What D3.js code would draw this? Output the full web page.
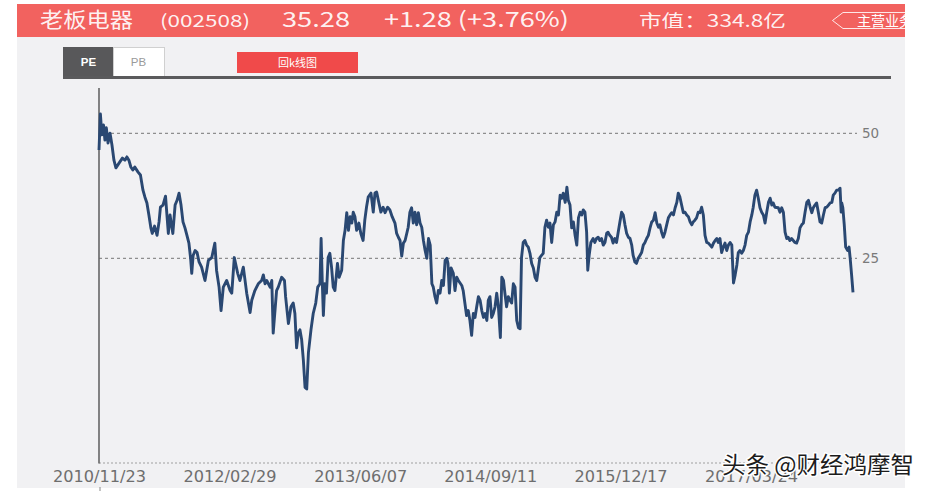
<!DOCTYPE html>
<html><head><meta charset="utf-8">
<script src="https://cdn.jsdelivr.net/npm/d3@7"></script>
<style>body{margin:0;background:#fff}svg{display:block}</style>
</head><body>
<svg id="c" width="933" height="493"></svg>
<script>
// ---------- text content ----------
const stockName = "老板电器";
const stockCode = "(002508)";
const price = "35.28";
const change = "+1.28 (+3.76%)";
const marketCap = "市值：334.8亿";
const tagLabel = "主营业务";
const tabs = ["PE", "PB"];
const buttonLabel = "回k线图";
const watermark = "头条 @财经鸿摩智";

// ---------- axis values ----------
const yTicks = [50, 25];
const xTickDates = ["2010-11-23","2012-02-29","2013-06-07","2014-09-11","2015-12-17","2017-03-24"];

// ---------- series (PE) ----------
const dates = [
 "2010-11-23","2010-11-28","2010-12-03","2010-12-09","2010-12-14","2010-12-19","2010-12-25",
 "2011-01-01","2011-01-08","2011-01-15","2011-01-22","2011-01-29","2011-02-05","2011-02-14","2011-02-23","2011-03-02","2011-03-09","2011-03-16","2011-03-23","2011-03-30","2011-04-10","2011-04-19","2011-04-28","2011-05-05","2011-05-12","2011-05-19","2011-05-26","2011-05-31","2011-06-08","2011-06-17","2011-06-24","2011-06-29","2011-07-08","2011-07-17","2011-07-22","2011-07-27","2011-08-02","2011-08-07","2011-08-12","2011-08-20","2011-08-27","2011-09-03","2011-09-10","2011-09-17","2011-09-24","2011-10-01","2011-10-08","2011-10-14","2011-10-18","2011-10-23","2011-10-30","2011-11-06","2011-11-13","2011-11-22","2011-12-04","2011-12-16","2011-12-28",
 "2012-01-08","2012-01-14","2012-01-23","2012-01-30","2012-02-07","2012-02-19","2012-03-02","2012-03-08","2012-03-17","2012-03-29","2012-04-06","2012-04-18","2012-04-30","2012-05-12","2012-05-18","2012-05-29","2012-06-10","2012-06-22","2012-06-28","2012-07-04","2012-07-10","2012-07-22","2012-07-28","2012-08-02","2012-08-14","2012-08-20","2012-09-01","2012-09-11","2012-09-15","2012-09-25","2012-10-04","2012-10-12","2012-10-18","2012-10-24","2012-10-30","2012-11-05","2012-11-11","2012-11-17","2012-11-23","2012-11-29","2012-12-05","2012-12-14","2012-12-22","2012-12-31",
 "2013-01-07","2013-01-15","2013-01-19","2013-01-23","2013-01-27","2013-02-01","2013-02-07","2013-02-13","2013-02-19","2013-02-25","2013-03-03","2013-03-09","2013-03-18","2013-03-24","2013-04-02","2013-04-08","2013-04-14","2013-04-20","2013-04-26","2013-05-02","2013-05-08","2013-05-13","2013-05-19","2013-05-25","2013-06-02","2013-06-09","2013-06-17","2013-06-23","2013-06-29","2013-07-05","2013-07-15","2013-07-23","2013-07-29","2013-08-04","2013-08-10","2013-08-19","2013-08-27","2013-09-03","2013-09-12","2013-09-20","2013-09-28","2013-10-08","2013-10-14","2013-10-20","2013-10-26","2013-11-01","2013-11-07","2013-11-13","2013-11-24","2013-11-30","2013-12-06","2013-12-12","2013-12-18","2013-12-24","2013-12-30",
 "2014-01-05","2014-01-11","2014-01-17","2014-01-23","2014-01-29","2014-02-04","2014-02-10","2014-02-16","2014-02-21","2014-02-27","2014-03-05","2014-03-11","2014-03-17","2014-03-23","2014-03-29","2014-04-04","2014-04-10","2014-04-14","2014-04-19","2014-04-25","2014-05-03","2014-05-09","2014-05-15","2014-05-21","2014-06-02","2014-06-07","2014-06-13","2014-06-19","2014-06-25","2014-07-01","2014-07-07","2014-07-13","2014-07-19","2014-07-25","2014-07-31","2014-08-06","2014-08-12","2014-08-18","2014-08-24","2014-08-30","2014-09-04","2014-09-10","2014-09-16","2014-09-22","2014-09-28","2014-10-04","2014-10-10","2014-10-17","2014-10-22","2014-10-28","2014-11-02","2014-11-08","2014-11-14","2014-11-20","2014-11-26","2014-12-02","2014-12-08","2014-12-14","2014-12-20","2014-12-26","2014-12-31",
 "2015-01-06","2015-01-12","2015-01-18","2015-01-24","2015-01-30","2015-02-05","2015-02-11","2015-02-17","2015-02-23","2015-02-28","2015-03-06","2015-03-12","2015-03-18","2015-03-24","2015-03-30","2015-04-05","2015-04-11","2015-04-17","2015-04-23","2015-04-29","2015-05-05","2015-05-11","2015-05-17","2015-05-23","2015-05-28","2015-06-04","2015-06-10","2015-06-15","2015-06-21","2015-06-27","2015-07-03","2015-07-09","2015-07-15","2015-07-21","2015-07-27","2015-08-02","2015-08-07","2015-08-13","2015-08-19","2015-08-23","2015-08-28","2015-09-03","2015-09-11","2015-09-17","2015-09-23","2015-09-29","2015-10-05","2015-10-11","2015-10-17","2015-10-23","2015-10-29","2015-11-03","2015-11-09","2015-11-15","2015-11-21","2015-11-27","2015-12-03","2015-12-09","2015-12-15","2015-12-21","2015-12-27",
 "2016-01-02","2016-01-08","2016-01-14","2016-01-20","2016-01-26","2016-01-31","2016-02-06","2016-02-12","2016-02-18","2016-02-24","2016-03-01","2016-03-07","2016-03-13","2016-03-19","2016-03-25","2016-03-31","2016-04-06","2016-04-12","2016-04-18","2016-04-24","2016-04-30","2016-05-05","2016-05-11","2016-05-17","2016-05-23","2016-05-29","2016-06-04","2016-06-10","2016-06-16","2016-06-22","2016-06-28","2016-07-04","2016-07-09","2016-07-15","2016-07-21","2016-07-27","2016-08-02","2016-08-08","2016-08-14","2016-08-20","2016-08-26","2016-08-31","2016-09-06","2016-09-12","2016-09-18","2016-09-24","2016-09-30","2016-10-06","2016-10-12","2016-10-18","2016-10-24","2016-10-30","2016-11-05","2016-11-11","2016-11-17","2016-11-23","2016-11-28","2016-12-04","2016-12-10","2016-12-16","2016-12-22","2016-12-28",
 "2017-01-03","2017-01-09","2017-01-15","2017-01-21","2017-01-27","2017-02-02","2017-02-07","2017-02-13","2017-02-19","2017-02-25","2017-03-03","2017-03-09","2017-03-15","2017-03-21","2017-03-27","2017-04-01","2017-04-07","2017-04-13","2017-04-19","2017-04-25","2017-05-01","2017-05-07","2017-05-13","2017-05-19","2017-05-25","2017-05-31","2017-06-06","2017-06-11","2017-06-17","2017-06-29","2017-07-05","2017-07-11","2017-07-17","2017-07-23","2017-07-29","2017-08-03","2017-08-09","2017-08-15","2017-08-21","2017-08-27","2017-09-02","2017-09-08","2017-09-14","2017-09-20","2017-09-26","2017-10-02","2017-10-08","2017-10-14","2017-10-20","2017-10-26","2017-10-31","2017-11-06","2017-11-12","2017-11-18","2017-11-24","2017-11-30","2017-12-06","2017-12-12","2017-12-18","2017-12-24","2017-12-30",
 "2018-01-05","2018-01-10","2018-01-16","2018-01-22","2018-01-28","2018-02-03","2018-02-07","2018-02-09","2018-02-13","2018-02-18","2018-02-23","2018-03-02","2018-03-07","2018-03-11","2018-03-16","2018-03-21"
];
const pe = [
 45.6,55.7,49.6,52.4,48.2,51.6,47.4,
 50.1,46.9,43.1,41.3,42.0,42.7,43.6,43.1,43.9,43.1,41.5,40.8,41.5,40.4,39.7,36.5,35.1,34.0,31.8,29.6,28.7,29.9,28.4,30.6,33.2,33.6,35.3,31.8,28.7,31.8,30.1,28.7,33.6,34.5,35.9,33.6,30.6,29.6,28.4,27.2,25.0,23.0,25.4,26.1,25.8,24.5,23.8,22.1,24.7,25.1,
 27.2,23.4,21.3,18.7,21.3,22.1,20.9,20.6,25.1,23.0,22.1,23.8,20.6,18.5,19.8,20.9,21.7,22.1,22.8,21.7,22.1,21.3,22.1,16.5,20.9,21.3,22.5,22.1,20.2,17.4,19.1,19.5,18.4,15.2,16.5,16.8,15.9,14.2,12.2,12.1,14.8,16.8,18.4,19.5,
 21.3,21.7,27.9,22.1,18.2,21.7,20.6,25.1,25.7,23.8,21.3,20.9,24.3,22.5,23.4,27.6,29.2,32.2,29.2,31.5,30.4,32.3,31.5,29.2,30.4,28.7,27.6,30.9,33.2,35.1,35.9,32.3,35.9,36.1,34.5,32.3,33.2,32.2,33.2,32.7,31.5,30.4,28.7,28.1,27.6,25.3,27.2,27.6,29.7,32.3,33.1,30.4,32.3,30.1,32.2,
 30.4,29.7,27.6,26.1,25.0,27.9,26.9,21.7,21.3,20.2,19.5,20.9,20.6,22.1,21.5,24.7,25.0,24.3,20.6,23.7,23.0,20.9,22.5,22.1,21.5,20.9,19.5,18.2,18.7,17.7,16.3,18.4,18.0,19.1,20.2,19.8,18.7,18.0,18.4,17.7,19.8,20.2,18.0,18.4,19.1,20.6,19.1,16.1,22.5,22.1,20.6,19.1,20.2,19.8,19.5,21.7,21.3,17.7,17.0,16.9,25.1,
 27.3,27.6,26.9,26.6,25.7,24.3,23.7,22.5,22.1,23.4,25.1,25.4,25.7,29.7,30.9,29.7,30.4,27.3,30.1,30.6,32.3,31.8,35.5,34.9,35.9,34.1,37.1,34.5,33.6,29.6,30.6,28.4,26.9,31.3,32.3,31.8,32.7,32.3,28.9,23.4,25.4,27.3,27.9,27.3,27.9,28.1,27.6,27.9,26.9,27.3,28.7,28.9,28.4,28.1,27.2,27.9,27.3,28.9,30.6,32.3,31.8,
 30.1,28.7,28.1,27.9,26.9,25.4,24.5,24.3,25.0,25.4,25.8,26.9,27.3,27.9,28.4,29.6,30.6,30.9,32.2,30.4,29.7,30.1,28.9,28.1,28.9,30.1,31.3,31.8,32.2,31.8,33.1,34.1,35.9,35.1,33.6,32.2,32.3,31.8,31.5,30.6,30.1,30.6,30.9,31.3,32.3,32.2,33.2,31.8,28.4,27.3,27.2,26.9,26.6,27.2,27.6,27.9,27.3,27.9,25.8,26.6,27.2,26.1,
 26.9,27.3,26.9,21.8,22.8,24.1,25.8,26.1,25.7,26.1,26.9,28.4,28.9,30.6,31.8,33.2,35.5,36.5,34.9,33.1,32.3,31.8,30.4,32.3,34.1,34.9,33.6,34.0,33.2,33.1,32.3,33.1,32.3,28.9,27.9,28.1,27.6,27.9,27.6,27.3,27.2,27.9,29.6,30.1,30.4,32.3,34.1,34.5,33.2,32.2,33.1,33.6,34.0,32.3,30.6,30.4,31.8,33.1,33.2,33.6,34.0,
 34.1,35.5,35.9,36.5,36.5,36.9,32.3,34.0,33.1,30.1,26.6,26.1,26.6,25.0,22.8,20.7
];

// ---------- drawing ----------
const svg = d3.select("#c");
const parse = d3.timeParse("%Y-%m-%d");
const series = dates.map((d, i) => ({ date: parse(d), value: pe[i] }));
if (dates.length !== pe.length) console.error("length mismatch", dates.length, pe.length);

svg.append("defs").append("clipPath").attr("id", "shot")
  .append("rect").attr("x", 17).attr("y", 0).attr("width", 888).attr("height", 488);
const g = svg.append("g").attr("clip-path", "url(#shot)");

// screenshot background + header
g.append("rect").attr("x", 17).attr("y", 4).attr("width", 888).attr("height", 484).attr("fill", "#f1f1f3");
g.append("rect").attr("x", 17).attr("y", 4).attr("width", 888).attr("height", 33).attr("fill", "#f2625f");

const hdrFont = "'Noto Sans CJK SC','Liberation Sans',sans-serif";
const hdr = [
  { t: stockName, x: 40, size: 21, len: 93 },
  { t: stockCode, x: 160, size: 17, len: 90 },
  { t: price, x: 282, size: 21, len: 68 },
  { t: change, x: 384, size: 21, len: 185 },
  { t: marketCap, x: 639, size: 17, len: 147 }
];
g.selectAll("text.hdr").data(hdr).join("text").attr("class", "hdr")
  .attr("x", d => d.x).attr("y", 27)
  .attr("font-family", hdrFont).attr("font-size", d => d.size)
  .attr("fill", "#fff").attr("fill-opacity", 0.93)
  .attr("textLength", d => d.len).attr("lengthAdjust", "spacingAndGlyphs")
  .text(d => d.t);

// tag on the right of header
g.append("path").attr("d", "M912,12.5 H843 L832.5,20.5 L843,28.5 H912")
  .attr("fill", "none").attr("stroke", "#fff").attr("stroke-opacity", 0.85).attr("stroke-width", 1);
g.append("text").attr("x", 857).attr("y", 25.5).attr("font-family", hdrFont).attr("font-size", 14)
  .attr("fill", "#fff").text(tagLabel);

// tabs
const tabX = [63, 113];
g.append("rect").attr("x", 113.5).attr("y", 47.5).attr("width", 51).attr("height", 30)
  .attr("fill", "#fff").attr("stroke", "#d0d0d0");
g.append("rect").attr("x", 63).attr("y", 47).attr("width", 50).attr("height", 31).attr("fill", "#58585a");
g.selectAll("text.tab").data(tabs).join("text").attr("class", "tab")
  .attr("x", (d, i) => tabX[i] + 25.5).attr("y", 66).attr("text-anchor", "middle")
  .attr("font-family", "'Liberation Sans',Arial,sans-serif").attr("font-size", 11.5)
  .attr("font-weight", (d, i) => i === 0 ? "bold" : "normal")
  .attr("fill", (d, i) => i === 0 ? "#fff" : "#9a9a9a").text(d => d);
g.append("rect").attr("x", 63).attr("y", 76).attr("width", 828).attr("height", 3).attr("fill", "#5a5a5c");

// button
g.append("rect").attr("x", 237).attr("y", 52).attr("width", 121).attr("height", 21).attr("fill", "#f04a4a");
g.append("text").attr("x", 297.5).attr("y", 67).attr("text-anchor", "middle")
  .attr("font-family", hdrFont).attr("font-size", 11).attr("fill", "#fff").text(buttonLabel);

// scales
const x = d3.scaleTime()
  .domain([parse("2010-11-23"), parse("2018-03-21")])
  .range([99, 853]);
const y = d3.scaleLog().domain([8, 64]).range([463.5, 89]);

// gridlines
const gridX2 = 857;
g.selectAll("line.grid").data(yTicks).join("line").attr("class", "grid")
  .attr("x1", 99).attr("x2", gridX2).attr("y1", d => y(d)).attr("y2", d => y(d))
  .attr("stroke", "#8e8e8e").attr("stroke-width", 1.2).attr("stroke-dasharray", "3,3");
g.append("line").attr("x1", 99).attr("x2", gridX2).attr("y1", y(8) - 0.5).attr("y2", y(8) - 0.5)
  .attr("stroke", "#a0a0a0").attr("stroke-width", 1.2).attr("stroke-dasharray", "2,2");

// y axis line
g.append("line").attr("x1", 99).attr("x2", 99).attr("y1", 88).attr("y2", y(8))
  .attr("stroke", "#666").attr("stroke-width", 1.6);

// right labels
const yAxis = g.append("g").attr("transform", `translate(${gridX2},0)`)
  .call(d3.axisRight(y).tickValues(yTicks).tickSize(0).tickPadding(5).tickFormat(d3.format("d")));
yAxis.select(".domain").remove();
yAxis.selectAll("text").attr("font-family", "'DejaVu Sans',sans-serif").attr("font-size", 13.5).attr("fill", "#7a7a7a");

// bottom labels
const xAxis = g.append("g").attr("transform", `translate(0,${y(8)})`)
  .call(d3.axisBottom(x).tickValues(xTickDates.map(parse)).tickSize(0).tickPadding(8)
    .tickFormat(d3.timeFormat("%Y/%m/%d")));
xAxis.select(".domain").remove();
xAxis.selectAll("text").attr("font-family", "'DejaVu Sans',sans-serif").attr("font-size", 15)
  .attr("fill", "#6e6e6e").attr("textLength", 93).attr("lengthAdjust", "spacingAndGlyphs");

// PE line
const line = d3.line().x(d => x(d.date)).y(d => y(d.value));
g.append("path").datum(series).attr("d", line)
  .attr("fill", "none").attr("stroke", "#2a4872").attr("stroke-width", 2.9)
  .attr("stroke-linejoin", "round");

// small tick mark below the screenshot
svg.append("line").attr("x1", 100).attr("x2", 100).attr("y1", 487).attr("y2", 491).attr("stroke", "#888");

// watermark
svg.append("text").attr("x", 722).attr("y", 473)
  .attr("font-family", "'Noto Sans CJK SC',sans-serif").attr("font-size", 23)
  .attr("textLength", 192).attr("lengthAdjust", "spacingAndGlyphs")
  .attr("fill", "#1c1c1c").attr("stroke", "#fff").attr("stroke-width", 3)
  .attr("paint-order", "stroke").attr("stroke-linejoin", "round")
  .text(watermark);
</script>
</body></html>
